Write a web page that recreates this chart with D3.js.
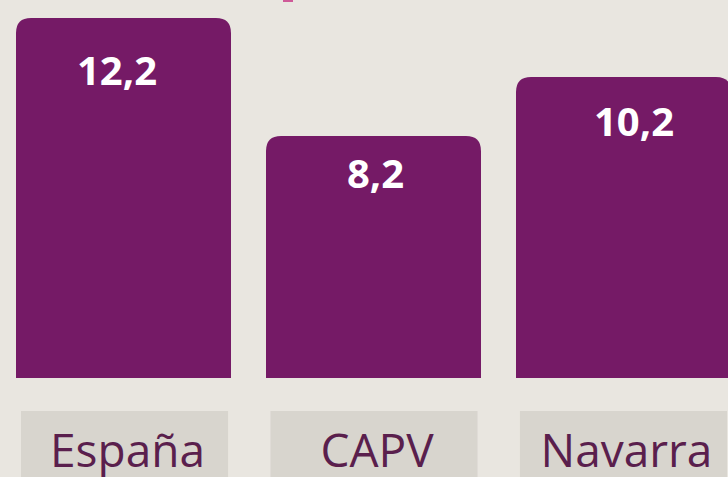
<!DOCTYPE html>
<html lang="es">
<head>
<meta charset="utf-8">
<style>
  html, body { margin: 0; padding: 0; background: #e9e6e0; overflow: hidden; }
  .val { font-family: "Open Sans", sans-serif; font-weight: 700; font-size: 40px; fill: #fff; }
  .cat { font-family: "Open Sans", sans-serif; font-weight: 400; font-size: 46px; fill: #5a1f4d; }
</style>
</head>
<body>
<svg width="728" height="477"></svg>
<script src="https://cdn.jsdelivr.net/npm/d3@7"></script>
<script>
  // datos
  var categorias = ["España", "CAPV", "Navarra"];
  var valores = [12.2, 8.2, 10.2];

  var svg = d3.select("svg"),
      width = +svg.attr("width"),
      height = +svg.attr("height");

  var es = d3.formatLocale({decimal: ",", thousands: ".", grouping: [3], currency: ["", "€"]});
  var fmt = es.format(".1f");

  var x = d3.scaleBand().domain(categorias).range([16, 731]).paddingInner(0.14);
  var xBox = d3.scaleBand().domain(categorias).range([21, 727]).paddingInner(0.17);
  var xLab = d3.scalePoint().domain(categorias).range([117, 634]);
  var y = d3.scaleLinear().domain([0, d3.max(valores)]).range([378, 18]);

  var r = 15;

  // pequeño resto del título cortado
  svg.append("rect").attr("x", 283).attr("y", 0).attr("width", 10).attr("height", 2)
    .attr("fill", "#cf5a98");

  function barPath(x0, w, top, bottom) {
    return "M" + x0 + "," + bottom +
      "V" + (top + r) +
      "Q" + x0 + "," + top + " " + (x0 + r) + "," + top +
      "H" + (x0 + w - r) +
      "Q" + (x0 + w) + "," + top + " " + (x0 + w) + "," + (top + r) +
      "V" + bottom + "Z";
  }

  svg.selectAll(".bar")
    .data(valores)
    .enter().append("path")
    .attr("class", "bar")
    .attr("fill", "#751a66")
    .attr("d", function(d, i) { return barPath(x(categorias[i]), x.bandwidth(), y(d), y(0)); });

  svg.selectAll(".val")
    .data(valores)
    .enter().append("text")
    .attr("class", "val")
    .attr("text-anchor", "middle")
    .attr("x", function(d, i) { return xLab(categorias[i]); })
    .attr("y", function(d) { return y(d) + (y(0) - y(d)) * 0.127 + 21; })
    .text(function(d) { return fmt(d); });

  // cajas de categorías
  svg.selectAll(".box")
    .data(categorias)
    .enter().append("rect")
    .attr("class", "box")
    .attr("x", function(d) { return xBox(d); })
    .attr("y", 411)
    .attr("width", xBox.bandwidth())
    .attr("height", 80)
    .attr("fill", "#d8d5ce");

  svg.selectAll(".cat")
    .data(categorias)
    .enter().append("text")
    .attr("class", "cat")
    .attr("text-anchor", "middle")
    .attr("x", function(d) { return xBox(d) + xBox.bandwidth() / 2 + 3; })
    .attr("y", 467)
    .text(function(d) { return d; });
</script>
</body>
</html>
